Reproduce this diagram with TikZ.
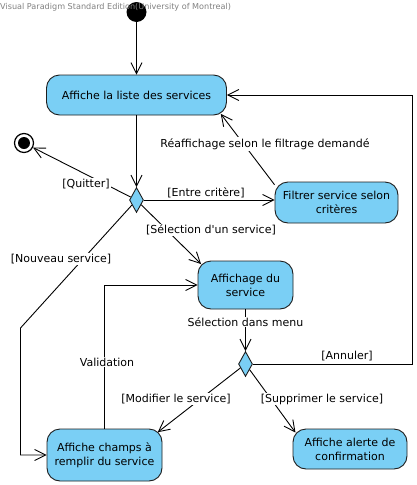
\documentclass[tikz,border=0pt]{standalone}
\usepackage{fontspec}
\setmainfont{DejaVu Sans}
\usetikzlibrary{arrows.meta,shapes.geometric}

\definecolor{vpblue}{RGB}{122,207,245}
\definecolor{vpline}{RGB}{30,30,30}

\tikzset{
  activity/.style={draw=vpline, line width=0.9pt, fill=vpblue, rounded corners=13, align=center, inner sep=0pt, font=\fontsize{11}{14}\selectfont},
  decision/.style={diamond, draw=vpline, line width=0.9pt, fill=vpblue, minimum width=14, minimum height=25, inner sep=0pt},
  flow/.style={draw=black, line width=0.9pt, -{Straight Barb[length=11pt,width=11pt]}},
  guard/.style={fill=white, inner sep=1pt, font=\fontsize{11}{13}\selectfont},
  guardtop/.style={inner sep=1pt, font=\fontsize{11}{13}\selectfont},
}

\begin{document}
\begin{tikzpicture}[x=1pt,y=1pt,yscale=-1,xscale=1]
\useasboundingbox (0,0) rectangle (416,485);

%Shape: Initial node
\node[circle, fill=black, minimum size=20, inner sep=0pt] (start) at (136.5,12) {};
% Text Node
\node[anchor=west, inner sep=0pt, text=gray, font=\fontsize{8.1}{9}\selectfont] (wm) at (0,7) {Visual Paradigm Standard Edition(University of Montreal)};
%Shape: Final node
\node[circle, draw=black, line width=1.2pt, fill=white, minimum size=19, inner sep=0pt] (stop) at (24,143) {};
\fill (stop.center) circle (6);

%Shape: Actions
\node[activity, minimum width=180, minimum height=40] (list) at (136.5,95) {Affiche la liste des services};
\node[activity, minimum width=123, minimum height=41] (filter) at (336.5,202.5) {Filtrer service selon\\critères};
\node[activity, minimum width=95, minimum height=48] (show) at (245.5,285) {Affichage du\\service};
\node[activity, minimum width=115, minimum height=52] (fields) at (104.5,455) {Affiche champs à\\remplir du service};
\node[activity, minimum width=114, minimum height=40] (alert) at (350,449) {Affiche alerte de\\confirmation};
%Shape: Decisions
\node[decision] (choice) at (136.5,200) {};
\node[decision] (menu) at (245.5,364) {};

%Straight Lines
\draw[flow] (start) -- (list);
\draw[flow] (list) -- (choice);
\draw[flow] (choice) -- (stop);
\draw[flow] (choice.east) -- (choice.east -| filter.west);
\draw[flow, shorten >=-2pt] (filter.164) -- ([xshift=-5pt]list.south east);
\draw[flow, shorten >=-5pt] (choice) -- (show.north west);
\draw[flow] (choice) -- ++(-116,128) |- (fields);
\draw[flow] (fields) |- (show);
\draw[flow] (show) -- (menu);
\draw[flow] (menu) -- ++(167,0) |- (list);
\draw[flow, shorten >=-6pt] (menu) -- (fields.north east);
\draw[flow, shorten >=-5pt] (menu) -- (alert.north west);

% Text Node
\node[guard] (qlbl) at (86,184) {[Quitter]};
% Text Node
\node[guardtop] (elbl) at (206,193) {[Entre critère]};
% Text Node
\node[guard] (rlbl) at (265,144) {Réaffichage selon le filtrage demandé};
% Text Node
\node[guard] (slbl) at (211,230) {[Sélection d\textquotesingle un service]};
% Text Node
\node[guard] (nlbl) at (61,259) {[Nouveau service]};
% Text Node
\node[guard] (vlbl) at (107,362) {Validation};
% Text Node
\node[guard] (mlbl) at (245.5,322) {Sélection dans menu};
% Text Node
\node[guardtop] (albl) at (347,356) {[Annuler]};
% Text Node
\node[guard] (mdlbl) at (176,399) {[Modifier le service]};
% Text Node
\node[guard] (splbl) at (322,399) {[Supprimer le service]};

\end{tikzpicture}
\end{document}
